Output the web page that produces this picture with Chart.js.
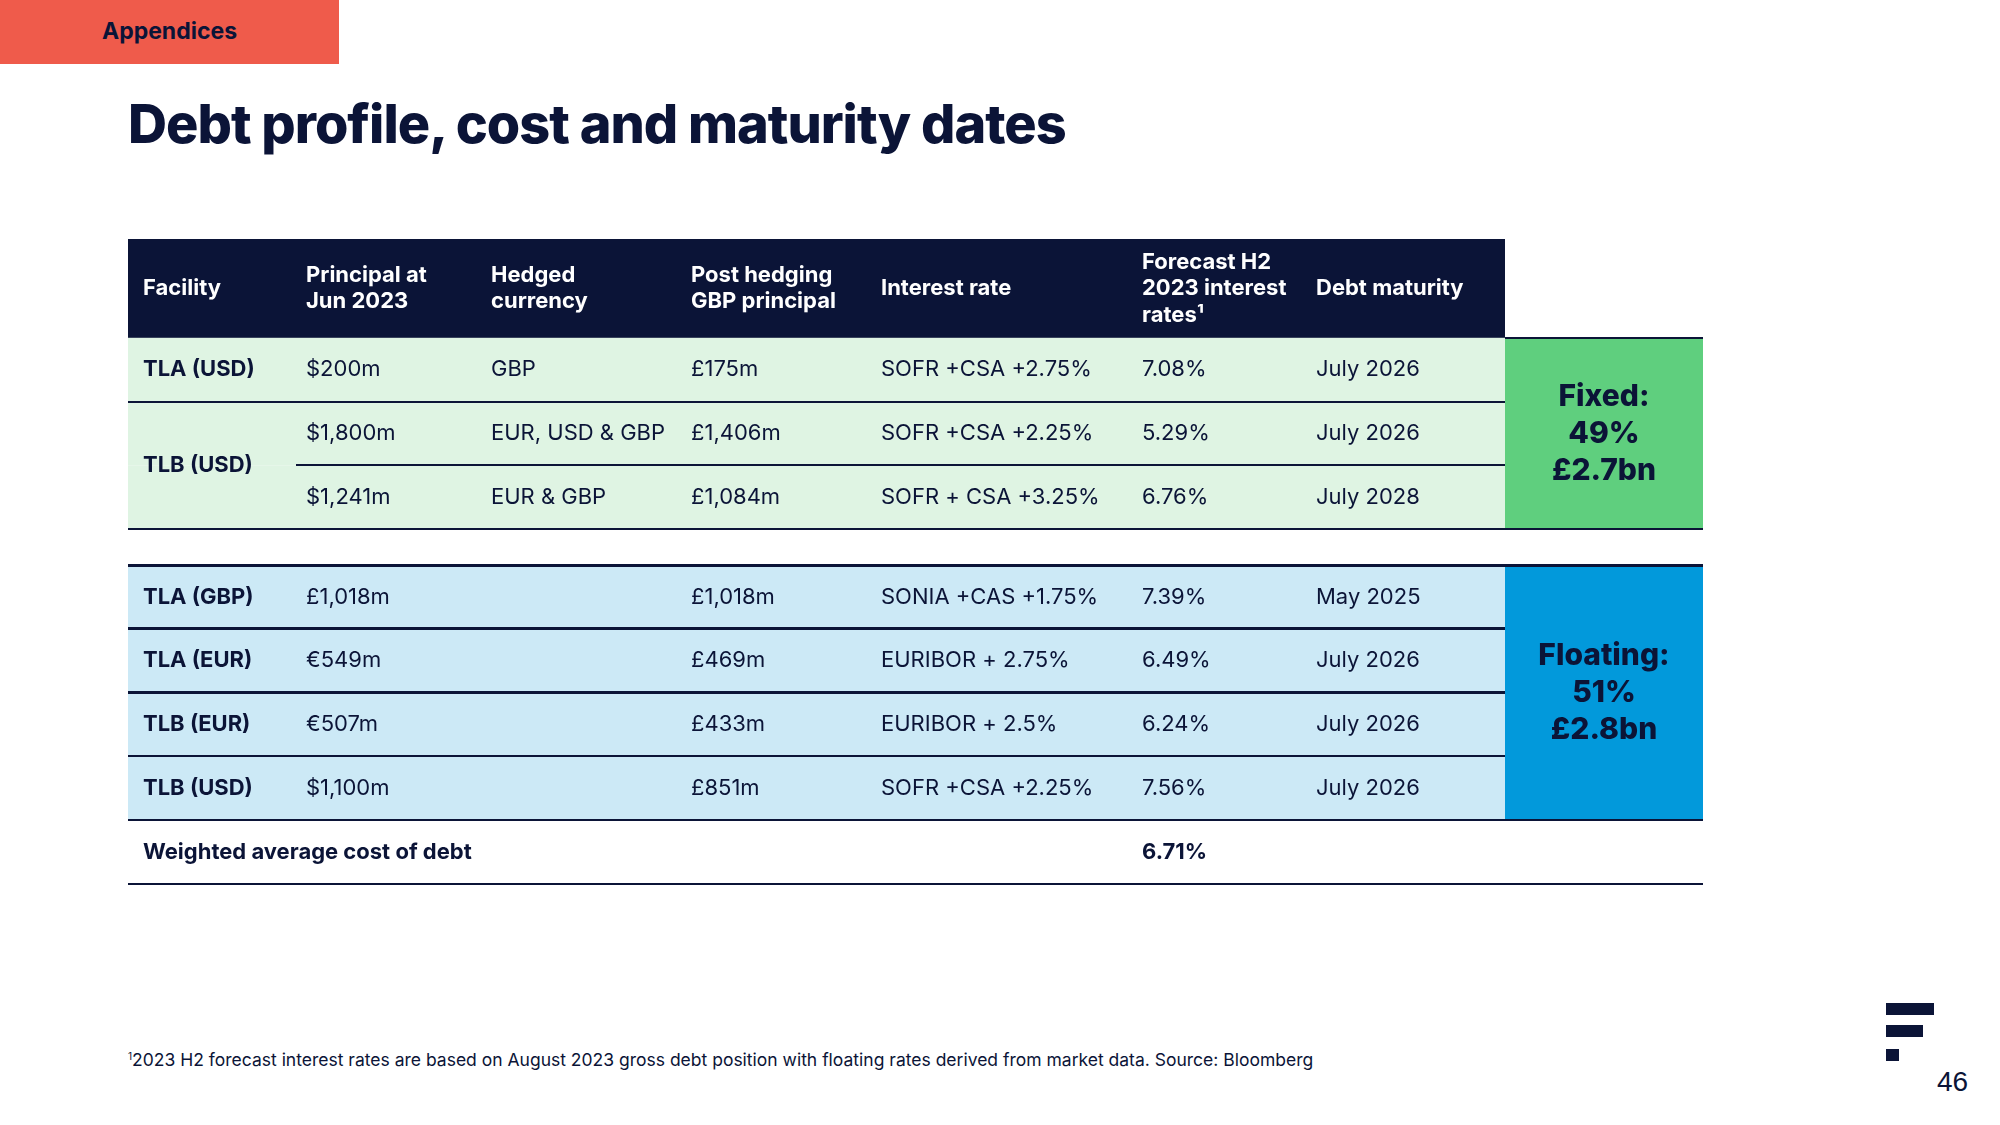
<!DOCTYPE html>
<html>
<head>
<meta charset="utf-8">
<script src="https://cdn.jsdelivr.net/npm/chart.js@4.4.0/dist/chart.umd.min.js"></script>
<style>
	body { margin: 0; width: 2000px; height: 1125px; background: #fff; position: relative; overflow: hidden; font-family: Inter, "Noto Sans", sans-serif; color: #0b1437; }
	.tag { position: absolute; left: 0; top: 0; width: 339px; height: 64px; background: #ef5b4b; }
	.tag span { position: absolute; left: 102px; top: 0; line-height: 62px; font-size: 23px; font-weight: 700; }
	h1 { position: absolute; left: 128px; top: 97px; margin: 0; font-size: 54px; line-height: 54px; font-weight: 800; letter-spacing: -1px; }
	#wrap { position: absolute; left: 128px; top: 239px; width: 1577px; height: 648px; }
	.note { position: absolute; left: 128px; top: 1046px; font-size: 17.5px; line-height: 20px; }
	.note sup { font-size: 10px; vertical-align: 6px; }
	.bar { position: absolute; left: 1886px; height: 12px; background: #0b1437; }
	.page { position: absolute; left: 1937px; top: 1068px; font-family: "Liberation Sans", Arial, sans-serif; font-size: 28px; line-height: 28px; }
</style>
</head>
<body>
<div class="tag"><span>Appendices</span></div>
<h1>Debt profile, cost and maturity dates</h1>
<div id="wrap"><canvas id="debtChart" width="1577" height="648"></canvas></div>
<div class="note"><sup>1</sup>2023 H2 forecast interest rates are based on August 2023 gross debt position with floating rates derived from market data. Source: Bloomberg</div>
<div class="bar" style="top:1003px;width:48px"></div>
<div class="bar" style="top:1025px;width:37px"></div>
<div class="bar" style="top:1049px;width:13px"></div>
<div class="page">46</div>

<script>
// table data
var headers = ["Facility", "Principal at\nJun 2023", "Hedged\ncurrency", "Post hedging\nGBP principal", "Interest rate", "Forecast H2\n2023 interest\nrates\u00b9", "Debt maturity"];
var facilityLabels = ["TLA (USD)", "TLB (USD)", "TLA (GBP)", "TLA (EUR)", "TLB (EUR)", "TLB (USD)"];
var facilitySpan = [1, 2, 1, 1, 1, 1];
var principal = ["$200m", "$1,800m", "$1,241m", "£1,018m", "€549m", "€507m", "$1,100m"];
var hedgedCurrency = ["GBP", "EUR, USD & GBP", "EUR & GBP", "", "", "", ""];
var postHedging = ["£175m", "£1,406m", "£1,084m", "£1,018m", "£469m", "£433m", "£851m"];
var interestRate = ["SOFR +CSA +2.75%", "SOFR +CSA +2.25%", "SOFR + CSA +3.25%", "SONIA +CAS +1.75%", "EURIBOR + 2.75%", "EURIBOR + 2.5%", "SOFR +CSA +2.25%"];
var forecastRate = ["7.08%", "5.29%", "6.76%", "7.39%", "6.49%", "6.24%", "7.56%"];
var maturity = ["July 2026", "July 2026", "July 2028", "May 2025", "July 2026", "July 2026", "July 2026"];
var rateType = ["fixed", "fixed", "fixed", "floating", "floating", "floating", "floating"];
var mixTitle = ["Fixed:", "Floating:"];
var mixShare = ["49%", "51%"];
var mixAmount = ["£2.7bn", "£2.8bn"];
var waccLabel = "Weighted average cost of debt";
var waccValue = "6.71%";

// layout (x in table px, y in row units)
var colLeft = [3, 166, 351, 551, 741, 1002, 1176];
var textPad = 12;
var tableRight = 1377;
var boxRight = 1575;
var headerH = 1.55;
var gapH = 0.56;

var NAVY = "#0b1437";
var colors = {
	fixed: "#dff4e3", fixedBox: "#5fcf7e",
	floating: "#cce9f6", floatingBox: "#0299db"
};

function rowTop(i) {
	if (i < 3) return headerH + i;
	return headerH + 3 + gapH + (i - 3);
}
var waccTop = rowTop(principal.length);
var totalH = waccTop + 1;

var debtTable = {
	id: "debtTable",
	afterDraw: function(chart) {
		var ctx = chart.ctx;
		var xs = chart.scales.x, ys = chart.scales.y;
		var X = v => xs.getPixelForValue(v);
		var Y = v => ys.getPixelForValue(v);
		var band = function(x0, x1, y0, y1, c) {
			ctx.fillStyle = c;
			ctx.fillRect(X(x0), Y(y0), X(x1) - X(x0), Y(y1) - Y(y0));
		};
		var rule = function(x0, x1, yv, w) {
			ctx.fillStyle = NAVY;
			ctx.fillRect(X(x0), Math.round(Y(yv) - w / 2), X(x1) - X(x0), w);
		};
		var label = function(s, xv, yv, font, color, align) {
			ctx.font = font;
			ctx.fillStyle = color || NAVY;
			ctx.textAlign = align || "left";
			ctx.textBaseline = "middle";
			ctx.fillText(s, X(xv), Y(yv));
		};
		var body = "400 22px Inter";
		var bold = "700 22px Inter";

		ctx.save();
		// header
		band(0, tableRight, 0, headerH, NAVY);
		headers.forEach(function(h, c) {
			var lines = h.split("\n");
			var cy = Y(headerH / 2);
			lines.forEach(function(ln, k) {
				ctx.font = bold;
				ctx.fillStyle = "#fff";
				ctx.textAlign = "left";
				ctx.textBaseline = "middle";
				ctx.fillText(ln, X(colLeft[c] + textPad), cy + (k - (lines.length - 1) / 2) * 26.5);
			});
		});

		// body rows
		principal.forEach(function(p, i) {
			band(0, tableRight, rowTop(i), rowTop(i) + 1, colors[rateType[i]]);
		});
		band(tableRight, boxRight, rowTop(0), rowTop(2) + 1, colors.fixedBox);
		band(tableRight, boxRight, rowTop(3), rowTop(6) + 1, colors.floatingBox);

		var cols = [principal, hedgedCurrency, postHedging, interestRate, forecastRate, maturity];
		principal.forEach(function(p, i) {
			var cy = rowTop(i) + 0.5;
			cols.forEach(function(arr, c) {
				if (arr[i]) label(arr[i], colLeft[c + 1] + textPad, cy, body);
			});
		});
		var r = 0;
		facilityLabels.forEach(function(f, k) {
			label(f, colLeft[0] + textPad, rowTop(r) + facilitySpan[k] / 2, bold);
			r += facilitySpan[k];
		});

		// fixed / floating boxes
		[[0, 2], [3, 6]].forEach(function(g, k) {
			var cy = (rowTop(g[0]) + rowTop(g[1]) + 1) / 2;
			var mid = (tableRight + boxRight) / 2;
			var f = "800 30px Inter";
			var step = 37 / (Y(1) - Y(0));
			label(mixTitle[k], mid, cy - step, f, NAVY, "center");
			label(mixShare[k], mid, cy, f, NAVY, "center");
			label(mixAmount[k], mid, cy + step, f, NAVY, "center");
		});

		// weighted average row
		label(waccLabel, colLeft[0] + textPad, waccTop + 0.5, bold);
		label(waccValue, colLeft[5] + textPad, waccTop + 0.5, bold);

		// rules
		rule(tableRight, boxRight, rowTop(0), 2);
		rule(0, tableRight, rowTop(1), 2);
		rule(colLeft[1] + 2, tableRight, rowTop(2), 2);
		rule(0, boxRight, rowTop(2) + 1, 2);
		rule(0, boxRight, rowTop(3), 3);
		rule(0, tableRight, rowTop(4), 3);
		rule(0, tableRight, rowTop(5), 3);
		rule(0, tableRight, rowTop(6), 2);
		rule(0, boxRight, rowTop(6) + 1, 2);
		rule(0, boxRight, totalH, 2);
		ctx.restore();
	}
};

var chart = new Chart(document.getElementById("debtChart").getContext("2d"), {
	type: "scatter",
	data: { datasets: [{ data: [] }] },
	options: {
		responsive: false,
		animation: false,
		layout: { padding: { top: 0, left: 0, right: 2, bottom: 3 } },
		plugins: { legend: { display: false }, tooltip: { enabled: false } },
		scales: {
			x: { type: "linear", min: 0, max: boxRight, display: false },
			y: { type: "linear", min: 0, max: totalH, reverse: true, display: false }
		}
	},
	plugins: [debtTable]
});
</script>
</body>
</html>
